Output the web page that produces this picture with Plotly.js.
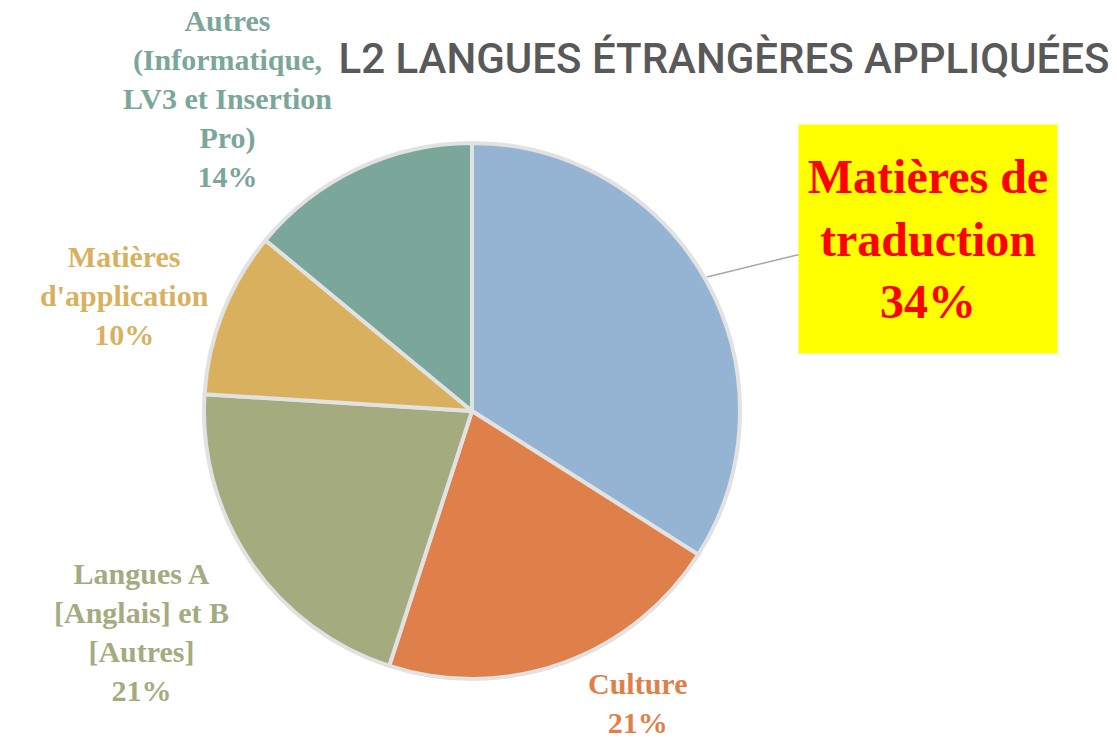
<!DOCTYPE html>
<html>
<head>
<meta charset="utf-8">
<script src="https://cdn.plot.ly/plotly-3.0.1.min.js"></script>
<style>html,body{margin:0;padding:0;background:#fff;}#chart{width:1117px;height:740px;}</style>
</head>
<body>
<div id="chart"></div>
<script>
const categories = ['Matières de traduction', 'Culture', 'Langues A [Anglais] et B [Autres]', "Matières d'application", 'Autres (Informatique, LV3 et Insertion Pro)'];
const labelLines = ['Matières de<br>traduction', 'Culture', 'Langues A<br>[Anglais] et B<br>[Autres]', "Matières<br>d'application", 'Autres<br>(Informatique,<br>LV3 et Insertion<br>Pro)'];
const shares = [34, 21, 21, 10, 14];
const colors = ['#95B4D3', '#DF804A', '#A4AB7F', '#D9B15E', '#7BA69A'];
const titleText = 'L2 LANGUES ÉTRANGÈRES APPLIQUÉES';

const W = 1117, H = 740;
const px = x => x / W, py = y => 1 - y / H;

// label placement (pixel centres) — styling only
const labelPos = [[928, 239], [637, 703], [141, 632], [124, 295], [227, 99]];
const labelSize = [48, 30, 30, 30, 30];

const trace = {
  type: 'pie',
  labels: categories,
  values: shares,
  sort: false,
  direction: 'clockwise',
  rotation: 0,
  textinfo: 'none',
  hoverinfo: 'label+percent',
  marker: { colors: colors, line: { color: '#E2E2E2', width: 4 } },
  domain: { x: [px(472 - 268), px(472 + 268)], y: [py(679), py(143)] },
  showlegend: false
};

const annotations = categories.map((c, i) => {
  const a = {
    xref: 'paper', yref: 'paper',
    x: px(labelPos[i][0]), y: py(labelPos[i][1]),
    xanchor: 'center', yanchor: 'middle',
    showarrow: false,
    align: 'center',
    text: '<b>' + labelLines[i] + '<br>' + shares[i] + '%</b>',
    font: { family: 'Liberation Serif, Times New Roman, serif', size: labelSize[i], color: i === 0 ? '#FF0000' : colors[i] }
  };
  if (i === 0) {
    a.bgcolor = '#FFFF00';
    a.width = 258;
    a.height = 228;
    a.borderpad = 0;
    a.valign = 'middle';
  }
  return a;
});

const layout = {
  width: W, height: H,
  margin: { l: 0, r: 0, t: 0, b: 0 },
  paper_bgcolor: '#FFFFFF',
  title: {
    text: titleText,
    x: px(724), xanchor: 'center',
    y: py(58), yanchor: 'middle',
    font: { family: 'Roboto, sans-serif', size: 42, weight: 500, color: '#595959' }
  },
  annotations: annotations,
  shapes: [{
    type: 'path', xref: 'paper', yref: 'paper',
    path: 'M' + px(707) + ',' + py(277) + ' L' + px(797) + ',' + py(255) + ' L' + px(800) + ',' + py(255),
    line: { color: '#A6A6A6', width: 1.5 }
  }]
};

Plotly.newPlot('chart', [trace], layout, { displayModeBar: false, staticPlot: true });
</script>
</body>
</html>
